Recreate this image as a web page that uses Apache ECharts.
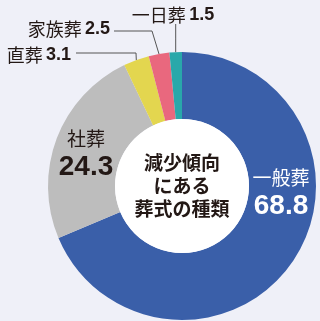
<!DOCTYPE html>
<html><head><meta charset="utf-8">
<script src="https://cdn.jsdelivr.net/npm/echarts@6/dist/echarts.min.js"></script>
<style>html,body{margin:0;padding:0;background:#eff0f8;}#c{width:320px;height:321px;}</style>
</head><body><div id="c"></div>
<script>
const categories = ['一般葬', '社葬', '直葬', '家族葬', '一日葬'];
const values = [68.8, 24.3, 3.1, 2.5, 1.5];
const colors = ['#3a5fa9', '#bdbdbd', '#e3d64f', '#e9687e', '#29a8aa'];
const centerLines = ['減少傾向', 'にある', '葬式の種類'];

const JP = '"Noto Sans CJK JP", "Noto Sans", sans-serif';
const NUM = '"Liberation Sans", Arial, sans-serif';
const ink = '#231815';

// label placement (positions only)
const place = {
  0: {x: 281, y: 193, align: 'center'},
  1: {x: 86, y: 154, align: 'center'},
  2: {x: 71, y: 55, align: 'right', bend: [136, 53], end: [76, 53]},
  3: {x: 110, y: 29, align: 'right', bend: [152, 31], end: [114, 31]},
  4: {x: 173, y: 15, align: 'center', bend: null, end: [null, 24]}
};

const chart = echarts.init(document.getElementById('c'), null, {renderer: 'canvas'});
const data = categories.map((n, i) => {
  const inside = i < 2;
  const dark = i === 1;
  return {
    name: n, value: values[i],
    itemStyle: {color: colors[i]},
    label: inside ? {
      show: true, position: 'inside', overflow: 'none',
      formatter: '{n|{b}}\n{v|{c}}',
      rich: {
        n: {fontFamily: JP, fontSize: 19, color: dark ? ink : '#fff', lineHeight: 26, align: 'center'},
        v: {fontFamily: NUM, fontWeight: 'bold', fontSize: 28, color: dark ? ink : '#fff', lineHeight: 30, align: 'center'}
      }
    } : {
      show: true, position: 'outside', overflow: 'none',
      formatter: '{n|{b}} {v|{c}}',
      rich: {
        n: {fontFamily: JP, fontSize: 18, color: ink},
        v: {fontFamily: NUM, fontWeight: 'bold', fontSize: 18, color: ink}
      }
    },
    labelLine: {show: !inside}
  };
});

chart.setOption({
  backgroundColor: '#eff0f8',
  animation: false,
  series: [{
    type: 'pie',
    center: [182, 186],
    radius: [67, 134],
    startAngle: 90,
    clockwise: true,
    silent: true,
    avoidLabelOverlap: false,
    data: data,
    label: {show: true, position: 'outside', overflow: 'none'},
    labelLine: {show: true, lineStyle: {color: '#555', width: 1}},
    labelLayout: function (p) {
      const c = place[p.dataIndex];
      const r = {x: c.x, y: c.y, align: c.align, verticalAlign: 'middle', hideOverlap: false};
      if (c.end && p.labelLinePoints) {
        const s = p.labelLinePoints[0];
        const end = [c.end[0] === null ? s[0] : c.end[0], c.end[1]];
        const bend = c.bend ? c.bend : [s[0], (s[1] + end[1]) / 2];
        r.labelLinePoints = [s, bend, end];
      }
      return r;
    }
  }, {
    type: 'pie',
    center: [182, 186],
    radius: [0, 67],
    silent: true,
    data: [{value: 1, name: 'center', itemStyle: {color: '#ffffff'}}],
    label: {
      show: true, position: 'center',
      formatter: centerLines.join('\n'),
      fontFamily: JP, fontWeight: 'bold', fontSize: 19, lineHeight: 23, color: ink
    },
    labelLine: {show: false}
  }]
});
</script></body></html>
